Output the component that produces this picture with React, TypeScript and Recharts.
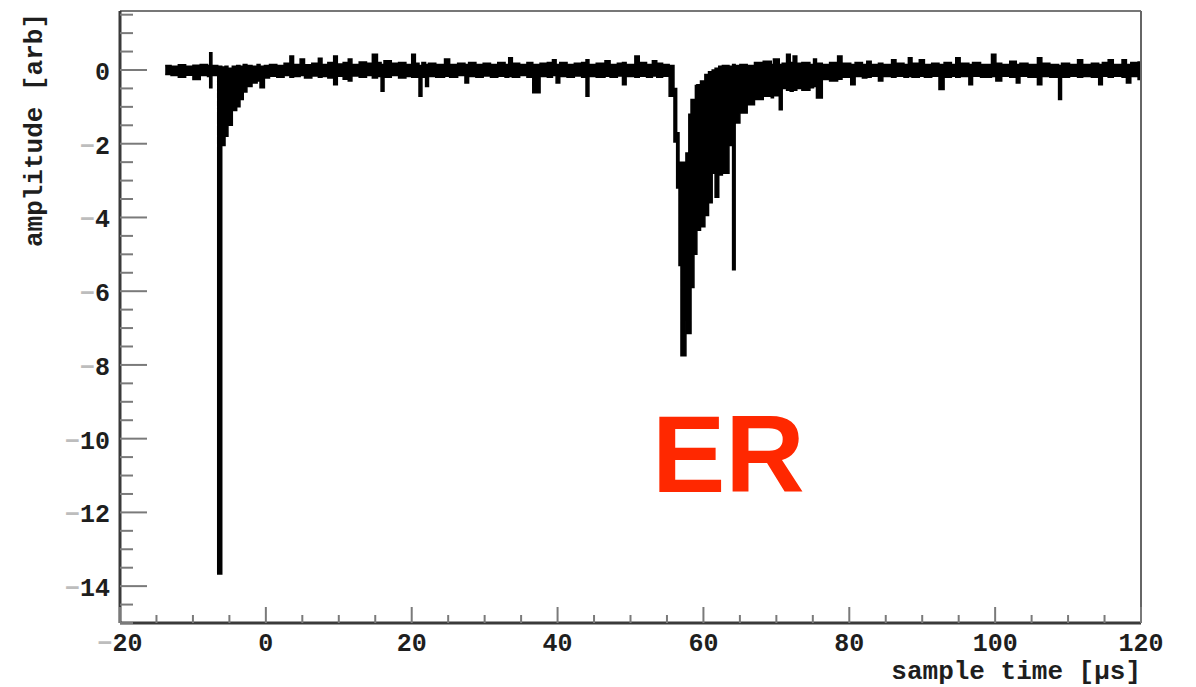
import { ComposedChart, Area, XAxis, YAxis, ReferenceLine } from "recharts";

// sample times [µs] — finer around the two pulses
const TIMES = [
  -13.8, -13, -12, -11, -10, -9, -8, -7.7, -7.4, -6.6,
  -6.05, -5.6, -5.2, -4.6, -4.0, -3.55, -3.1, -2.6, -1.9, -1.2, -0.8, -0.2,
  0.5, 1.5, 2.5, 3.3, 3.8, 4.7, 5.3, 6.3, 7.2, 7.7, 8.5, 9.3, 9.8, 10.6, 11.3, 11.8,
  12.8, 13.8, 14.6, 15.3, 15.8, 16.2, 17.2, 18.2, 19.2, 20.0, 20.5, 21.0, 21.4, 21.9,
  22.3, 23.3, 24.5, 25.2, 26.3, 27.3, 27.8, 28.8, 29.8, 30.8, 31.8, 32.8, 33.3, 33.8,
  34.8, 35.8, 36.6, 37.6, 38.6, 39.3, 39.8, 40.3, 41.3, 42.3, 43.3, 43.9, 44.3, 45.3,
  46.5, 47.2, 48.2, 48.9, 49.4, 50.6, 51.2, 52.2, 53.0, 53.6, 54.4,
  55.3, 55.96, 56.33, 56.65, 56.92, 57.6, 57.8, 58.0, 58.3, 58.7, 58.9, 59.1, 59.6,
  60.2, 60.7, 61.2, 61.6, 62.1, 62.6, 63.5, 64.0, 64.35, 65.0, 66.0, 67.0, 68.2,
  69.3, 69.6, 70.4, 70.8, 71.4, 71.9, 72.3, 72.8, 73.5, 74.6, 75.1, 75.5, 76.3,
  77.3, 78.4, 79.0, 80.2, 80.8, 81.8, 82.4, 83.0, 84.0, 84.6, 85.8, 86.4, 87.5,
  88.1, 88.6, 89.6, 90.3, 91.3, 92.3, 93.0, 94.0, 94.6, 95.2, 96.4, 96.9, 98.0,
  99.5, 100.1, 100.9, 102.0, 102.9, 103.4, 104.5, 105.8, 106.4, 107.5, 108.7, 109.1,
  110.2, 111.3, 112.0, 113.2, 114.2, 114.7, 115.5, 116.2, 117.4, 118.0, 118.6, 119.6, 120.0,
];

// lower edge of the trace [arb]
const LOW = [
  -0.12, -0.15, -0.2, -0.14, -0.26, -0.15, -0.18, -0.48, -0.15, -13.67,
  -2.05, -1.8, -1.5, -1.1, -1.0, -0.8, -0.6, -0.45, -0.35, -0.3, -0.48, -0.22,
  -0.17, -0.2, -0.15, -0.2, -0.18, -0.15, -0.22, -0.16, -0.2, -0.18, -0.22, -0.4, -0.17, -0.25, -0.3, -0.16,
  -0.2, -0.15, -0.22, -0.18, -0.58, -0.2, -0.15, -0.22, -0.18, -0.2, -0.2, -0.71, -0.2, -0.45,
  -0.18, -0.2, -0.17, -0.2, -0.15, -0.35, -0.18, -0.2, -0.16, -0.2, -0.17, -0.2, -0.18, -0.2,
  -0.15, -0.2, -0.62, -0.18, -0.2, -0.15, -0.35, -0.18, -0.2, -0.16, -0.2, -0.71, -0.18, -0.2,
  -0.17, -0.2, -0.16, -0.4, -0.18, -0.2, -0.17, -0.2, -0.16, -0.2, -0.17,
  -0.71, -1.95, -3.2, -5.3, -7.75, -6.8, -7.15, -7.15, -5.9, -5.0, -5.0, -4.35, -4.25,
  -3.95, -3.6, -2.8, -3.45, -2.85, -2.8, -2.05, -5.42, -1.44, -1.17, -0.94, -0.8, -0.71,
  -0.75, -0.7, -1.08, -0.5, -0.55, -0.58, -0.55, -0.5, -0.55, -0.48, -0.45, -0.76, -0.26,
  -0.3, -0.25, -0.2, -0.4, -0.18, -0.22, -0.2, -0.17, -0.3, -0.18, -0.2, -0.17, -0.2,
  -0.18, -0.2, -0.17, -0.2, -0.17, -0.53, -0.2, -0.17, -0.2, -0.18, -0.4, -0.17, -0.2,
  -0.18, -0.3, -0.17, -0.2, -0.35, -0.17, -0.2, -0.4, -0.18, -0.2, -0.8, -0.2,
  -0.17, -0.2, -0.18, -0.2, -0.4, -0.17, -0.2, -0.17, -0.2, -0.35, -0.18, -0.26, -0.26,
];

// upper edge of the trace [arb]
const HIGH = [
  0.12, 0.1, 0.14, 0.1, 0.13, 0.15, 0.12, 0.47, 0.12, 0.1,
  0.08, 0.1, 0.05, 0.1, 0.12, 0.1, 0.15, 0.12, 0.1, 0.15, 0.1, 0.12,
  0.15, 0.12, 0.18, 0.38, 0.15, 0.3, 0.14, 0.18, 0.32, 0.15, 0.2, 0.38, 0.16, 0.2, 0.3, 0.15,
  0.22, 0.18, 0.43, 0.2, 0.15, 0.25, 0.18, 0.2, 0.15, 0.43, 0.18, 0.12, 0.2, 0.15,
  0.18, 0.15, 0.3, 0.15, 0.18, 0.15, 0.2, 0.15, 0.18, 0.15, 0.2, 0.15, 0.33, 0.18,
  0.15, 0.2, 0.15, 0.18, 0.2, 0.28, 0.15, 0.2, 0.15, 0.18, 0.2, 0.28, 0.15, 0.18,
  0.25, 0.15, 0.18, 0.2, 0.15, 0.38, 0.2, 0.15, 0.25, 0.18, 0.15,
  0.12, -0.5, -1.7, -2.5, -2.5, -2.25, -2.25, -1.2, -0.8, -0.8, -0.42, -0.4, -0.3,
  -0.12, -0.05, 0.0, 0.05, 0.1, 0.12, 0.1, 0.15, 0.12, 0.15, 0.12, 0.2, 0.24,
  0.15, 0.3, 0.15, 0.18, 0.43, 0.2, 0.38, 0.18, 0.2, 0.15, 0.3, 0.18, 0.15,
  0.2, 0.38, 0.18, 0.15, 0.2, 0.15, 0.24, 0.15, 0.18, 0.15, 0.28, 0.18, 0.15,
  0.33, 0.18, 0.28, 0.15, 0.18, 0.15, 0.2, 0.15, 0.33, 0.18, 0.15, 0.2, 0.15,
  0.43, 0.18, 0.15, 0.24, 0.15, 0.18, 0.15, 0.33, 0.18, 0.15, 0.12, 0.18,
  0.15, 0.28, 0.15, 0.18, 0.15, 0.2, 0.28, 0.15, 0.28, 0.15, 0.2, 0.22, 0.22,
];

const X_TICKS = [
  -20, -15, -10, -5, 0, 5, 10, 15, 20, 25, 30, 35, 40, 45, 50, 55, 60, 65, 70,
  75, 80, 85, 90, 95, 100, 105, 110, 115, 120,
];
const X_LABELS = [-20, 0, 20, 40, 60, 80, 100, 120];

const Y_TICKS = [
  -15, -14.5, -14, -13.5, -13, -12.5, -12, -11.5, -11, -10.5, -10, -9.5, -9,
  -8.5, -8, -7.5, -7, -6.5, -6, -5.5, -5, -4.5, -4, -3.5, -3, -2.5, -2, -1.5,
  -1, -0.5, 0, 0.5, 1, 1.5,
];
const Y_LABELS = [-14, -12, -10, -8, -6, -4, -2, 0];

const FONT = "'Liberation Mono', 'Courier New', monospace";
const TICK_COLOUR = "#7a7a7a";
const AXIS_COLOUR = "#3a3a3a";

const data = TIMES.map((t, i) => ({ t, range: [LOW[i], HIGH[i]] }));

function Num({ v }: { v: number }) {
  if (v < 0) {
    return (
      <>
        <tspan fill="#bdbdbd">−</tspan>
        <tspan fill="#1e1e1e">{Math.abs(v)}</tspan>
      </>
    );
  }
  return <tspan fill="#1e1e1e">{v}</tspan>;
}

function XTick(props: any) {
  const { x, y, payload } = props;
  const v = payload.value as number;
  const major = X_LABELS.includes(v);
  return (
    <g>
      <line x1={x} x2={x} y1={y} y2={y - (major ? 16 : 8)} stroke={TICK_COLOUR} strokeWidth={2} />
      {major && (
        <text x={x} y={y + 28} textAnchor="middle" fontFamily={FONT} fontWeight="bold" fontSize={25}>
          <Num v={v} />
        </text>
      )}
    </g>
  );
}

function YTick(props: any) {
  const { x, y, payload } = props;
  const v = payload.value as number;
  const major = Y_LABELS.includes(v);
  return (
    <g>
      <line x1={x} x2={x + (major ? 27 : 13)} y1={y} y2={y} stroke={TICK_COLOUR} strokeWidth={2} />
      {major && (
        <text x={x - 10} y={y + 10} textAnchor="end" fontFamily={FONT} fontWeight="bold" fontSize={25}>
          <Num v={v} />
        </text>
      )}
    </g>
  );
}

export default function App() {
  return (
    <div style={{ position: "absolute", left: 0, top: 0, width: 1196, height: 687, background: "#fff" }}>
      <ComposedChart
        width={1196}
        height={687}
        data={data}
        margin={{ top: 11, right: 55, bottom: 0, left: 0 }}
      >
        <XAxis
          dataKey="t"
          type="number"
          domain={[-20, 120]}
          ticks={X_TICKS}
          interval={0}
          allowDataOverflow
          height={64}
          tickLine={false}
          tickSize={0}
          tickMargin={0}
          axisLine={{ stroke: AXIS_COLOUR, strokeWidth: 3 }}
          tick={<XTick />}
        />
        <YAxis
          type="number"
          domain={[-15, 1.6]}
          ticks={Y_TICKS}
          interval={0}
          allowDataOverflow
          width={120}
          tickLine={false}
          tickSize={0}
          tickMargin={0}
          axisLine={{ stroke: AXIS_COLOUR, strokeWidth: 3 }}
          tick={<YTick />}
        />
        <ReferenceLine y={1.6} stroke="#777" strokeWidth={2} />
        <ReferenceLine x={120} stroke="#666" strokeWidth={2} />
        <Area
          dataKey="range"
          type="stepAfter"
          fill="#000"
          fillOpacity={1}
          stroke="#000"
          strokeWidth={1.5}
          dot={false}
          activeDot={false}
          isAnimationActive={false}
        />
      </ComposedChart>
      <svg
        width={1196}
        height={687}
        style={{ position: "absolute", left: 0, top: 0, pointerEvents: "none" }}
      >
        <text x={1141} y={679} textAnchor="end" fontFamily={FONT} fontWeight="bold" fontSize={26} fill="#1e1e1e">
          sample time [µs]
        </text>
        <text
          x={42}
          y={13}
          textAnchor="end"
          transform="rotate(-90, 42, 13)"
          fontFamily={FONT}
          fontWeight="bold"
          fontSize={26}
          fill="#1e1e1e"
        >
          amplitude [arb]
        </text>
        <text
          x={652}
          y={492}
          fontFamily="'Liberation Sans', Arial, sans-serif"
          fontWeight="bold"
          fontSize={110}
          fill="#ff2800"
        >
          ER
        </text>
      </svg>
    </div>
  );
}
